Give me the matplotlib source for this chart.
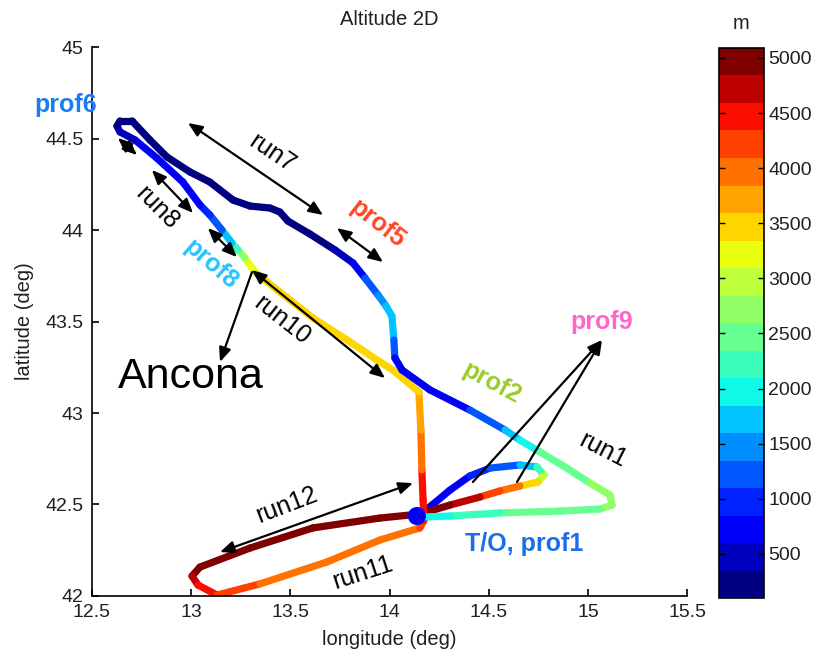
import matplotlib
matplotlib.use("Agg")
import matplotlib.pyplot as plt
import numpy as np
from matplotlib.collections import LineCollection
from matplotlib.colors import Normalize
from matplotlib.patches import FancyArrowPatch

plt.rcParams["font.family"] = ["Liberation Sans", "DejaVu Sans"]

# flight track (lon, lat in deg, altitude in m), in flight order
track_lon = [14.152, 14.213, 14.304, 14.404, 14.505, 14.656, 14.742, 14.777, 14.747, 14.656,
             14.555, 14.455, 14.304, 14.152, 13.951, 13.613, 13.296, 13.044, 13.004, 13.034,
             13.130, 13.346, 13.684, 13.951, 14.152, 14.173, 14.168, 14.162, 14.157, 14.147,
             14.016, 13.951, 13.785, 13.613, 13.447, 13.321, 13.271, 13.236, 13.205, 13.155,
             13.094, 13.044, 12.958, 12.827, 12.717, 12.641, 12.626, 12.641, 12.702, 12.792,
             12.878, 12.994, 13.094, 13.210, 13.296, 13.397, 13.447, 13.487, 13.598, 13.724,
             13.815, 13.875, 13.941, 13.981, 14.011, 14.021, 14.026, 14.062, 14.203, 14.404,
             14.581, 14.656, 14.757, 14.883, 15.009, 15.110, 15.120, 15.059, 14.858, 14.555,
             14.304, 14.178]
track_lat = [42.443, 42.497, 42.579, 42.656, 42.699, 42.716, 42.705, 42.661, 42.623, 42.601,
             42.574, 42.541, 42.497, 42.448, 42.426, 42.372, 42.262, 42.158, 42.109, 42.060,
             42.005, 42.066, 42.186, 42.306, 42.372, 42.415, 42.525, 42.689, 42.907, 43.115,
             43.235, 43.279, 43.399, 43.519, 43.661, 43.770, 43.847, 43.891, 43.929, 44.000,
             44.082, 44.137, 44.262, 44.393, 44.492, 44.536, 44.568, 44.596, 44.596, 44.492,
             44.399, 44.317, 44.262, 44.164, 44.131, 44.120, 44.098, 44.049, 43.978, 43.891,
             43.820, 43.738, 43.645, 43.585, 43.530, 43.399, 43.301, 43.235, 43.126, 43.016,
             42.907, 42.852, 42.787, 42.705, 42.617, 42.552, 42.497, 42.475, 42.464, 42.454,
             42.437, 42.432]
track_alt = [400, 600, 750, 850, 1000, 1400, 1900, 2600, 3200, 3700,
             4100, 4400, 4800, 5000, 5050, 5050, 5050, 5000, 4800, 4500,
             4300, 4000, 4000, 4000, 4000, 4300, 4550, 4350, 3750, 3550,
             3500, 3500, 3500, 3500, 3450, 3400, 3000, 2400, 2000, 1400,
             1000, 850, 750, 700, 650, 500, 300, 250, 250, 250,
             250, 250, 250, 250, 250, 250, 250, 250, 300, 350,
             500, 900, 1300, 1600, 1700, 1500, 900, 700, 700, 900,
             1500, 1900, 2200, 2500, 2600, 2650, 2650, 2600, 2500, 2200,
             2000, 1900]

# take-off point
to_lon, to_lat, to_alt = 14.137, 42.437, 600

# annotation arrows: start, end, double headed?
arrow_x0 = [12.984, 13.734, 12.631, 12.802, 13.084, 13.306, 13.306, 13.145, 14.419, 14.641]
arrow_y0 = [44.585, 44.011, 44.503, 44.328, 44.011, 43.781, 43.770, 42.240, 42.623, 42.623]
arrow_x1 = [13.664, 13.966, 12.727, 13.009, 13.230, 13.976, 13.145, 14.117, 15.069, 15.069]
arrow_y1 = [44.082, 43.825, 44.410, 44.093, 43.852, 43.191, 43.279, 42.617, 43.399, 43.399]
arrow_both = [True, True, True, True, True, True, False, True, False, False]

# labels: text, lon, lat, rotation, colour, bold
label_text = ["prof6", "run7", "prof5", "run8", "prof8", "run10", "prof2", "prof9",
              "run1", "run12", "run11", "T/O, prof1"]
label_x = [12.369, 13.407, 13.936, 12.827, 13.100, 13.457, 14.515, 15.069,
           15.074, 13.482, 13.865, 14.676]
label_y = [44.683, 44.421, 44.033, 44.120, 43.809, 43.508, 43.164, 43.497,
           42.798, 42.497, 42.126, 42.284]
label_rot = [0, -34, -38, -45, -41, -38, -28, 0, -27, 21, 18, 0]
label_col = ["#1a7cf2", "black", "#ff4422", "black", "#22c4ff", "black", "#9acc2a",
             "#ff66cc", "black", "black", "black", "#1a6fe8"]
label_bold = [True, False, True, False, True, False, True, True, False, False, False, True]

x_ticks = [12.5, 13, 13.5, 14, 14.5, 15, 15.5]
x_tick_labels = ["12.5", "13", "13.5", "14", "14.5", "15", "15.5"]
y_ticks = [42, 42.5, 43, 43.5, 44, 44.5, 45]
y_tick_labels = ["42", "42.5", "43", "43.5", "44", "44.5", "45"]
cbar_ticks = [500, 1000, 1500, 2000, 2500, 3000, 3500, 4000, 4500, 5000]

ALT_MIN, ALT_MAX = 100, 5090
TXT = "#202020"


def main():
    fig = plt.figure(figsize=(8.16, 6.53), dpi=100)
    ax = fig.add_axes([0.1127, 0.0873, 0.7298, 0.8407])
    cax = fig.add_axes([0.8811, 0.0842, 0.0551, 0.8423])

    cmap = plt.get_cmap("jet", 20)
    norm = Normalize(ALT_MIN, ALT_MAX)

    pts = np.column_stack([track_lon, track_lat])
    segs = np.stack([pts[:-1], pts[1:]], axis=1)
    alt = np.asarray(track_alt, float)
    lc = LineCollection(segs, cmap=cmap, norm=norm, linewidths=5.2,
                        capstyle="round", joinstyle="round", zorder=2)
    lc.set_array((alt[:-1] + alt[1:]) / 2)
    ax.add_collection(lc)
    ax.scatter([to_lon], [to_lat], c=[to_alt], cmap=cmap, norm=norm, s=170,
               edgecolors="none", zorder=3)

    for x0, y0, x1, y1, both in zip(arrow_x0, arrow_y0, arrow_x1, arrow_y1, arrow_both):
        style = "<|-|>" if both else "-|>"
        ax.add_patch(FancyArrowPatch((x0, y0), (x1, y1),
                                     arrowstyle=style + ",head_length=0.9,head_width=0.38",
                                     mutation_scale=9.5, color="black", lw=1.6,
                                     shrinkA=0, shrinkB=0, zorder=4))

    for t, x, y, r, c, b in zip(label_text, label_x, label_y, label_rot, label_col, label_bold):
        ax.text(x, y, t, rotation=r, color=c, fontsize=18,
                fontweight="bold" if b else "normal",
                ha="center", va="center", rotation_mode="anchor",
                clip_on=False, zorder=5)

    ax.text(12.631, 43.137, "Ancona", fontsize=31, color="black",
            ha="left", va="baseline", zorder=5)

    ax.set_xlim(12.5, 15.5)
    ax.set_ylim(42, 45)
    ax.set_xticks(x_ticks)
    ax.set_xticklabels(x_tick_labels)
    ax.set_yticks(y_ticks)
    ax.set_yticklabels(y_tick_labels)
    ax.spines["top"].set_visible(False)
    ax.spines["right"].set_visible(False)
    for s in ("left", "bottom"):
        ax.spines[s].set_linewidth(1.2)
    ax.tick_params(direction="in", length=5, width=1.2, labelsize=14,
                   labelcolor=TXT, pad=6)
    ax.set_xlabel("longitude (deg)", fontsize=14.5, color=TXT, labelpad=6)
    ax.set_ylabel("latitude (deg)", fontsize=14.5, color=TXT, labelpad=8)
    ax.set_title("Altitude 2D", fontsize=14.5, color=TXT, pad=16)

    cb = fig.colorbar(plt.cm.ScalarMappable(norm=norm, cmap=cmap), cax=cax)
    cb.set_ticks(cbar_ticks)
    cb.outline.set_linewidth(1.2)
    cax.tick_params(direction="in", length=4, width=1, labelsize=14,
                    labelcolor=TXT, left=True, right=True, pad=3)
    cax.set_title("m", fontsize=14.5, color=TXT, pad=14)

    fig.savefig("out.png", dpi=100)
    plt.close(fig)


if __name__ == "__main__":
    main()
